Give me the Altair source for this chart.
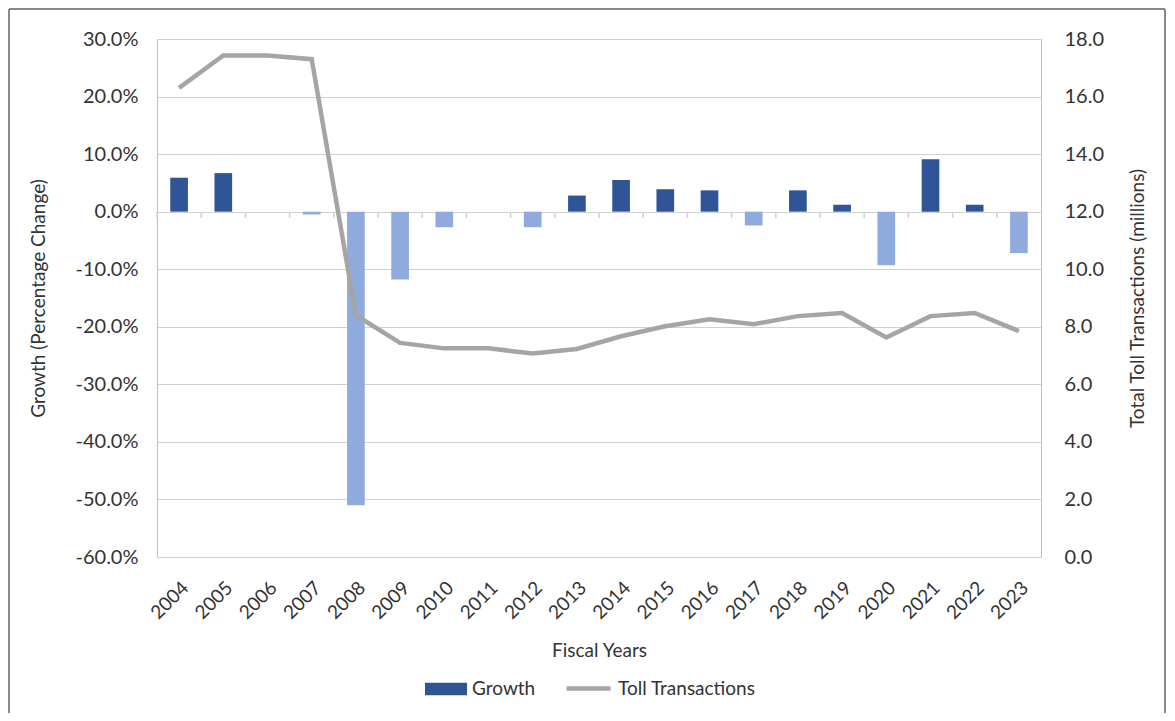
import altair as alt
import pandas as pd

years = [str(y) for y in range(2004, 2024)]
growth = [0.059, 0.067, 0.0, -0.005, -0.510, -0.118, -0.027, 0.0, -0.027, 0.028,
          0.055, 0.039, 0.037, -0.024, 0.037, 0.012, -0.093, 0.091, 0.012, -0.072]
toll = [16.3, 17.43, 17.43, 17.3, 8.4, 7.44, 7.25, 7.25, 7.07, 7.23,
        7.67, 8.02, 8.26, 8.09, 8.37, 8.48, 7.63, 8.37, 8.48, 7.85]

left_ticks = [-0.6, -0.5, -0.4, -0.3, -0.2, -0.1, 0.0, 0.1, 0.2, 0.3]
right_ticks = [0, 2, 4, 6, 8, 10, 12, 14, 16, 18]

DARK = "#2F5597"
LIGHT = "#8FAADC"
GRAY = "#A5A5A5"
TXT = "#333333"
FONT = "Lato"

df = pd.DataFrame({
    "year": years,
    "growth": growth,
    "toll": toll,
})
df["colorKey"] = ["Growth" if g >= 0 else "Negative" for g in growth]
df["series"] = "Toll Transactions"

W, H = 884, 518
ZERO_Y = 173  # pixel row of the 0.0% line inside the plot
x_scale = alt.Scale(paddingInner=0, paddingOuter=0)
x_axis = alt.Axis(title="Fiscal Years", orient="bottom", labelAngle=315, ticks=False,
                  domain=False, grid=False, labelPadding=21, titlePadding=19)

bars = alt.Chart(df).mark_bar(width=alt.RelativeBandSize(0.4)).encode(
    x=alt.X("year:N", scale=x_scale, sort=years, axis=x_axis),
    y=alt.Y("growth:Q", scale=alt.Scale(domain=[-0.6, 0.3], nice=False, zero=False),
            axis=alt.Axis(title="Growth (Percentage Change)", values=left_ticks,
                          labelExpr="replace(format(datum.value, '.1%'), '\u2212', '-')",
                          ticks=False, domain=True, domainColor="#BFBFBF",
                          grid=True, gridColor="#D0D0D0", labelPadding=19,
                          labelFontSize=20, titlePadding=27)),
    fill=alt.Fill("colorKey:N",
                  scale=alt.Scale(domain=["Growth", "Negative"], range=[DARK, LIGHT]),
                  legend=alt.Legend(values=["Growth"], title=None, orient="none",
                                    legendX=268, legendY=629,
                                    symbolType="M-1,-0.3H1V0.3H-1Z", symbolSize=1764,
                                    symbolStrokeWidth=0, labelOffset=5,
                                    labelFontSize=19, labelFont=FONT, labelColor=TXT)),
)

cat_ticks = alt.Chart(df).mark_rule(color="#D0D0D0", strokeWidth=1.5).encode(
    x=alt.X("year:N", scale=x_scale, sort=years, bandPosition=0, axis=x_axis),
    y=alt.value(ZERO_Y), y2=alt.value(ZERO_Y + 6),
)

line = alt.Chart(df).mark_line(strokeWidth=4.5).encode(
    x=alt.X("year:N", scale=x_scale, sort=years, axis=x_axis),
    y=alt.Y("toll:Q", scale=alt.Scale(domain=[0, 18], nice=False),
            axis=alt.Axis(title="Total Toll Transactions (millions)", orient="right",
                          values=right_ticks, format=".1f", ticks=False, domain=True,
                          domainColor="#BFBFBF", grid=False, labelPadding=23,
                          labelFontSize=20, titlePadding=44, titleAngle=270)),
    stroke=alt.Stroke("series:N",
                      scale=alt.Scale(domain=["Toll Transactions"], range=[GRAY]),
                      legend=alt.Legend(title=None, orient="none", legendX=407, legendY=625,
                                        symbolType="stroke", symbolSize=1936,
                                        symbolStrokeWidth=4.5, labelOffset=5,
                                        labelFontSize=19, labelFont=FONT, labelColor=TXT)),
)

border_left = alt.Chart(df).mark_rule(color="#888888", strokeWidth=1.5).encode(
    x=alt.value(-148), y=alt.value(-30), y2=alt.value(H + 156))
border_top = alt.Chart(df).mark_rule(color="#888888", strokeWidth=1.5).encode(
    x=alt.value(-148), x2=alt.value(W + 124), y=alt.value(-30))
border_right = alt.Chart(df).mark_rule(color="#888888", strokeWidth=1.5).encode(
    x=alt.value(W + 124), y=alt.value(-30), y2=alt.value(H + 156))

chart = alt.layer(bars, cat_ticks, line, border_left, border_top, border_right).resolve_scale(
    y="independent"
).properties(
    width=W, height=H,
    autosize=alt.AutoSizeParams(type="none"),
    padding={"left": 149, "top": 31, "right": 126, "bottom": 156},
).configure_view(stroke=None).configure_axis(
    labelFont=FONT, labelFontSize=19, labelColor=TXT,
    titleFont=FONT, titleFontSize=19, titleColor=TXT, titleFontWeight="normal",
)

chart.save("out.html", embed_options={"renderer": "svg", "actions": False})
